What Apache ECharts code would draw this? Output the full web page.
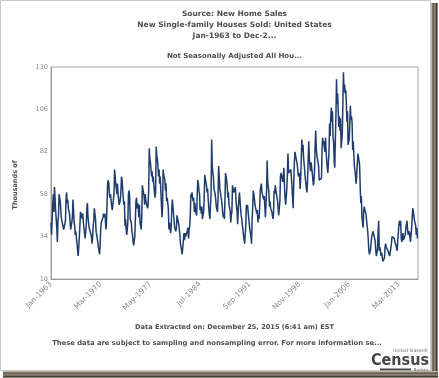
<!DOCTYPE html>
<html>
<head>
<meta charset="utf-8">
<script src="https://cdn.jsdelivr.net/npm/echarts@6/dist/echarts.min.js"></script>
<style>
html,body{margin:0;padding:0;background:#fff;}
#chart{width:439px;height:378px;}
</style>
</head>
<body>
<div id="chart"></div>
<script>
// ---- Data (thousands of new single-family houses sold, not seasonally adjusted) ----
const monthNames = ['Jan','Feb','Mar','Apr','May','Jun','Jul','Aug','Sep','Oct','Nov','Dec'];
const firstYear = 1963;
const lastYear = 2015;
const sales = [
  42,35,44,52,58,48,62,56,49,44,39,31,      // 1963
  43,46,58,59,54,55,44,45,41,42,38,39,      // 1964
  38,43,55,59,53,55,50,50,47,47,38,40,      // 1965
  42,45,55,49,42,40,35,37,33,30,30,23,      // 1966
  28,29,40,48,47,46,44,47,42,42,41,33,      // 1967
  37,40,50,53,45,44,39,40,38,40,34,30,      // 1968
  34,40,43,50,47,44,37,35,33,31,28,26,      // 1969
  24,29,38,42,43,43,45,47,45,47,44,38,      // 1970
  42,43,64,66,64,58,56,58,54,54,49,48,      // 1971
  50,58,72,68,64,65,58,64,58,58,52,51,      // 1972
  55,60,68,66,66,56,52,54,40,44,38,35,      // 1973
  38,43,58,60,57,44,45,42,37,35,31,29,      // 1974
  29,34,44,54,56,50,53,50,45,52,42,40,      // 1975
  38,45,63,64,59,57,52,58,55,53,52,50,      // 1976
  52,60,84,78,76,75,68,71,65,68,63,59,      // 1977
  56,59,85,80,78,74,68,72,64,68,60,53,      // 1978
  45,50,72,69,70,66,60,64,54,56,53,50,      // 1979
  38,42,43,36,40,50,55,55,55,54,39,38,      // 1980
  37,39,46,46,45,41,38,35,30,28,27,24,      // 1981
  28,29,36,32,36,34,34,36,37,39,33,38,      // 1982
  40,46,58,56,59,56,54,56,48,53,48,49,      // 1983
  46,58,66,64,60,58,49,51,47,51,44,45,      // 1984
  48,55,69,67,65,63,59,61,55,56,46,44,      // 1985
  52,58,89,75,70,68,61,62,58,55,51,51,      // 1986
  48,55,74,68,62,59,57,56,52,48,45,47,      // 1987
  44,55,70,68,66,62,56,59,52,53,49,42,      // 1988
  46,48,63,61,59,58,58,62,55,51,48,41,      // 1989
  50,50,59,55,50,46,44,43,38,35,34,30,      // 1990
  30,40,52,50,52,48,49,47,38,39,34,30,      // 1991
  44,50,60,58,57,52,53,52,47,49,42,46,      // 1992
  44,50,60,59,64,59,58,58,55,57,57,45,      // 1993
  46,60,77,65,64,59,51,54,50,49,48,47,      // 1994
  44,47,60,58,63,64,64,63,54,54,46,50,      // 1995
  54,68,70,70,69,65,66,73,62,56,52,52,      // 1996
  61,69,81,70,71,71,69,72,67,62,61,50,      // 1997
  64,75,82,82,82,83,75,75,68,69,70,61,      // 1998
  67,77,89,82,86,79,75,74,67,64,61,59,      // 1999
  67,78,88,78,77,71,76,73,70,71,63,65,      // 2000
  72,85,94,84,80,79,76,74,66,66,67,65,      // 2001
  67,84,90,86,88,84,82,90,82,77,73,70,      // 2002
  76,82,98,91,101,107,99,105,90,88,76,73,   // 2003
  89,102,123,109,115,105,96,102,94,101,84,83, // 2004
  92,109,127,116,120,115,117,110,99,105,86,87, // 2005
  89,88,108,100,102,98,83,88,80,74,71,70,   // 2006
  64,64,75,81,80,77,74,62,53,57,45,44,      // 2007
  39,48,51,49,49,47,43,40,37,32,26,24,      // 2008
  24,27,31,34,35,37,38,36,33,31,26,23,      // 2009
  24,27,37,43,26,28,26,23,25,23,20,21,      // 2010
  21,22,28,30,28,28,27,26,25,25,23,23,      // 2011
  23,30,34,34,35,34,33,31,31,29,28,26,      // 2012
  32,36,41,43,40,43,33,31,31,36,32,31,      // 2013
  33,35,39,39,43,38,35,36,37,36,31,35,      // 2014
  39,45,50,48,47,43,44,40,35,39,33,null     // 2015
];
const yTicks = [10, 34, 58, 82, 106, 130];
const xLabelEvery = 86; // Jan-1963, Mar-1970, May-1977, ... Mar-2013

const categories = [];
for (let y = firstYear; y <= lastYear; y++) {
  for (let m = 0; m < 12; m++) categories.push(monthNames[m] + '-' + y);
}

const FONT = '"DejaVu Sans", Verdana, sans-serif';
const TXT = '#4d4d4d';

const chart = echarts.init(document.getElementById('chart'), null, {renderer: 'canvas'});

function label(text, x, y, size, opts) {
  opts = opts || {};
  return {
    type: 'text',
    x: x, y: y,
    rotation: opts.rotation || 0,
    z: 10,
    style: {
      text: text,
      font: (opts.weight || 'bold') + ' ' + size + 'px ' + (opts.family || FONT),
      fill: opts.color || TXT,
      align: opts.align || 'center',
      verticalAlign: 'middle',
      textAlign: opts.align || 'center',
      textVerticalAlign: 'middle'
    }
  };
}

chart.setOption({
  animation: false,
  backgroundColor: '#ffffff',
  grid: {
    left: 51, right: 21, top: 67, bottom: 99,
    show: true, borderColor: '#a8a8a8', borderWidth: 1,
    outerBoundsMode: 'none'
  },
  xAxis: {
    type: 'category',
    data: categories,
    boundaryGap: false,
    axisLine: {show: true, lineStyle: {color: '#9a9a9a', width: 1}},
    axisTick: {show: false},
    splitLine: {show: false},
    axisLabel: {
      interval: function (idx) { return idx % xLabelEvery === 0; },
      rotate: 45,
      margin: 4,
      fontSize: 7.5,
      fontFamily: FONT,
      color: '#8a8a8a',
      hideOverlap: false
    }
  },
  yAxis: {
    type: 'value',
    min: yTicks[0],
    max: yTicks[yTicks.length - 1],
    interval: yTicks[1] - yTicks[0],
    axisLine: {show: true, lineStyle: {color: '#9a9a9a', width: 1}},
    axisTick: {show: false},
    splitLine: {show: false},
    axisLabel: {
      margin: 3,
      fontSize: 6.5,
      fontFamily: FONT,
      color: '#8a8a8a'
    }
  },
  series: [{
    type: 'line',
    data: sales,
    showSymbol: false,
    symbol: 'none',
    connectNulls: false,
    lineStyle: {color: '#1f3d6c', width: 1.5},
    z: 3
  }],
  graphic: [
    // frame
    {type: 'rect', shape: {x: 0.5, y: 0.5, width: 430, height: 370}, style: {fill: 'none', stroke: '#c8c8c8', lineWidth: 1}, z: 1},
    {type: 'rect', shape: {x: 431, y: 3, width: 7, height: 375},
      style: {fill: new echarts.graphic.LinearGradient(0, 0, 1, 0, [
        {offset: 0, color: '#d9d2c4'}, {offset: 0.3, color: '#5c5347'},
        {offset: 0.55, color: '#9a9080'}, {offset: 0.8, color: '#3d3832'}, {offset: 1, color: '#bdb5a6'}])}, z: 1},
    {type: 'rect', shape: {x: 3, y: 371, width: 435, height: 7},
      style: {fill: new echarts.graphic.LinearGradient(0, 0, 0, 1, [
        {offset: 0, color: '#d9d2c4'}, {offset: 0.3, color: '#5c5347'},
        {offset: 0.55, color: '#9a9080'}, {offset: 0.8, color: '#3d3832'}, {offset: 1, color: '#bdb5a6'}])}, z: 1},
    // titles
    label('Source: New Home Sales', 234.5, 14, 7.5),
    label('New Single-family Houses Sold: United States', 234.5, 25, 7.5),
    label('Jan-1963 to Dec-2...', 234.5, 36, 7.5),
    label('Not Seasonally Adjusted All Hou...', 234.5, 56, 7),
    // y axis name
    label('Thousands of', 15, 185, 6.5, {rotation: Math.PI / 2}),
    // footers
    label('Data Extracted on: December 25, 2015 (6:41 am) EST', 234.5, 327, 6.6),
    label('These data are subject to sampling and nonsampling error. For more information se...', 217, 343, 6.8),
    // census logo
    label('United States\u00ae', 428, 351, 4.5, {align: 'right', weight: 'normal', color: '#666'}),
    label('Census', 429, 361, 16, {align: 'right', weight: 'bold', color: '#444', family: '"DejaVu Sans Condensed", "DejaVu Sans", sans-serif'}),
    {type: 'rect', shape: {x: 380, y: 368.5, width: 31, height: 1.8}, style: {fill: '#444'}, z: 10},
    label('Bureau', 428, 369.5, 4, {align: 'right', weight: 'normal', color: '#666'})
  ]
});
</script>
</body>
</html>
